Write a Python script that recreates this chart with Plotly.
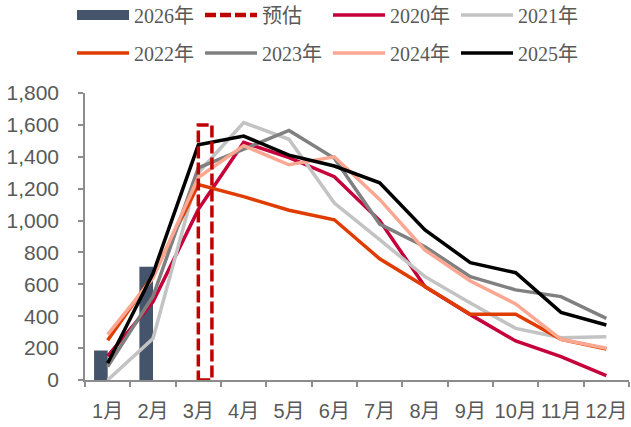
import plotly.graph_objects as go

months = ['1月', '2月', '3月', '4月', '5月', '6月', '7月', '8月', '9月', '10月', '11月', '12月']
v2026 = [185, 710, None, None, None, None, None, None, None, None, None, None]
forecast = [None, None, 1600, None, None, None, None, None, None, None, None, None]
y2020 = [150, 490, 1070, 1490, 1395, 1275, 1000, 585, 410, 245, 146, 27]
y2021 = [0, 260, 1300, 1615, 1510, 1110, 880, 648, 483, 324, 265, 272]
y2022 = [250, 655, 1225, 1150, 1065, 1005, 760, 585, 412, 412, 255, 194]
y2023 = [85, 525, 1330, 1445, 1565, 1390, 978, 836, 648, 565, 523, 387]
y2024 = [285, 640, 1270, 1470, 1350, 1400, 1133, 815, 621, 477, 255, 199]
y2025 = [105, 668, 1475, 1530, 1410, 1342, 1237, 941, 736, 673, 424, 345]

line_series = [
    ('2020年', y2020, '#C5003A', 'legend'),
    ('2021年', y2021, '#C3C3C3', 'legend'),
    ('2022年', y2022, '#E03C00', 'legend2'),
    ('2023年', y2023, '#808080', 'legend2'),
    ('2024年', y2024, '#FBA791', 'legend2'),
    ('2025年', y2025, '#000000', 'legend2'),
]

BAR_COLOR = '#44546A'
FC_COLOR = '#C00000'
TXT = '#595959'
AX = '#8C8C8C'
serif = 'Liberation Serif, Times New Roman, Noto Sans CJK SC, serif'
sans = 'Liberation Sans, Arial, Noto Sans CJK SC, sans-serif'

fig = go.Figure()
fig.add_trace(go.Bar(x=months, y=v2026, marker=dict(color=BAR_COLOR, line=dict(width=0)),
                     showlegend=False, name='2026年'))
fig.add_trace(go.Bar(x=months, y=forecast, marker=dict(color='rgba(0,0,0,0)', line=dict(width=0)),
                     showlegend=False, name='预估'))
# legend-only entries
fig.add_trace(go.Scatter(x=[None], y=[None], mode='lines', name='2026年',
                         line=dict(color=BAR_COLOR, width=10), legend='legend'))
fig.add_trace(go.Scatter(x=[None], y=[None], mode='lines', name='预估',
                         line=dict(color=FC_COLOR, width=4.5, dash='11px,4px'), legend='legend'))
for name, vals, col, lg in line_series:
    fig.add_trace(go.Scatter(x=months, y=vals, mode='lines', name=name,
                             line=dict(color=col, width=3.5), legend=lg))

# dashed outline for the forecast bar (second slot of the bar group)
bargap = 0.4
slot = (1 - bargap) / 2
for i, v in enumerate(forecast):
    if v is not None:
        fig.add_shape(type='rect', xref='x', yref='y', x0=i, x1=i + slot, y0=0, y1=v,
                      line=dict(color=FC_COLOR, width=3.5, dash='12px,4px'),
                      fillcolor='rgba(0,0,0,0)', layer='above')

leg_common = dict(orientation='h', xref='container', yref='container', xanchor='left',
                  yanchor='middle', itemwidth=52, entrywidth=61, entrywidthmode='pixels',
                  font=dict(family=serif, size=20, color=TXT), bgcolor='rgba(0,0,0,0)',
                  borderwidth=0, tracegroupgap=0)

fig.update_layout(
    width=631, height=427,
    margin=dict(l=85, r=2, t=93, b=47, autoexpand=False),
    paper_bgcolor='white', plot_bgcolor='white',
    barmode='group', bargap=bargap, bargroupgap=0,
    legend=dict(x=72 / 631, y=1 - 15 / 427, **leg_common),
    legend2=dict(x=72 / 631, y=1 - 53 / 427, **leg_common),
    xaxis=dict(type='category', range=[-0.5, 11.5], showline=True, linecolor=AX, linewidth=1.5,
               ticks='outside', ticklen=5, tickcolor=AX, tickwidth=1.5, tickson='boundaries',
               showgrid=False, zeroline=False, ticklabelstandoff=12, tickangle=0,
               tickfont=dict(family=sans, size=20, color=TXT)),
    yaxis=dict(range=[0, 1800], dtick=200, tickformat=',', showline=True, linecolor=AX,
               linewidth=1.5, ticks='outside', ticklen=5, tickcolor=AX, tickwidth=1.5,
               showgrid=False, zeroline=False, ticklabelstandoff=15,
               tickfont=dict(family=sans, size=21, color=TXT)),
)

fig.write_html('out.html', config={'displayModeBar': False},
               post_script="document.body.style.margin='0';document.body.style.overflow='hidden';")
